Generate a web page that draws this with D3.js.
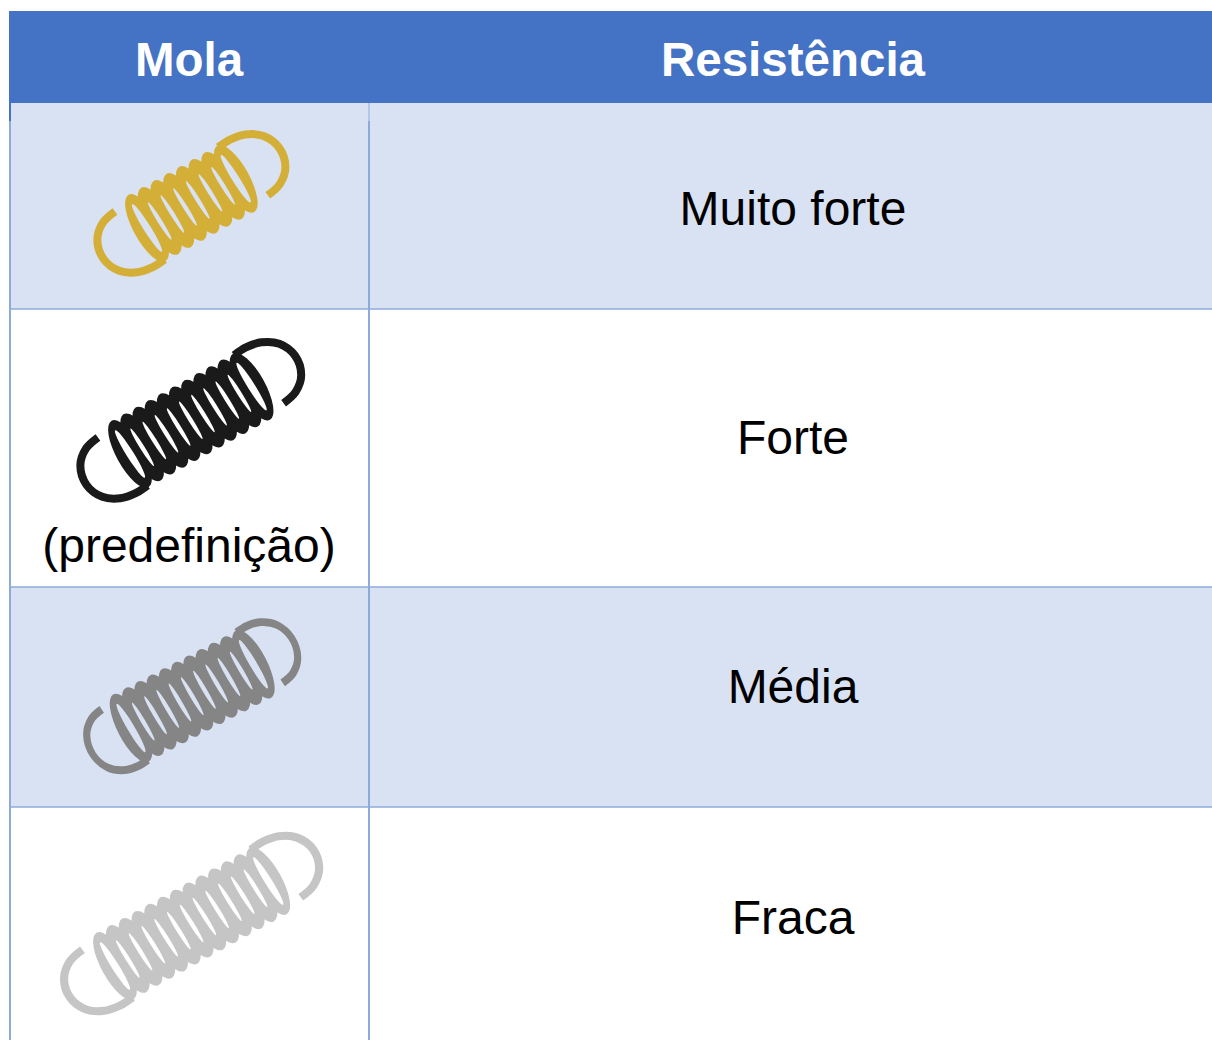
<!DOCTYPE html>
<html>
<head>
<meta charset="utf-8">
<script src="https://cdn.jsdelivr.net/npm/d3@7"></script>
<style>
    html, body { margin: 0; background: #fff; overflow: hidden; }
    text { font-family: "Liberation Sans", Arial, sans-serif; }
</style>
</head>
<body>
<div id="chart"></div>
<script>
// Table data
const headers = ["Mola", "Resistência"];
const strengths = ["Muito forte", "Forte", "Média", "Fraca"];
const notes = ["", "(predefinição)", "", ""];
const coilCounts = [8, 11, 11, 13];
const springColors = ["#d4af37", "#1a1a1a", "#858585", "#c5c5c5"];

// Layout
const width = 1212, height = 1040;
const colX = [10, 369, 1212];
const headerTop = 11, rowY = [103, 309, 587, 807, 1040];
const textMid = [208, 437, 686, 917];
// first coil centre of each spring, distance between coils, tilt, hook size
const springStart = [[147, 228], [130, 454], [131, 728], [115, 966]];
const coilStep = [14.5, 13.9, 13.8, 14.6];
const springAngle = [-29, -29, -27.5, -29];
const hookScale = [1, 1, 0.87, 1.03];
const coilRx = 13.5, coilRy = 38;
const holeTilt = 3;
const hookStroke = 8;
const hook = [[-20, -30], [-36, -26], [-49, -14], [-53, 6], [-45, 24], [-30, 34], [-14, 37], [0, 36]];

const rowFill = ["#d9e2f3", "#ffffff", "#d9e2f3", "#ffffff"];
const lineColor = "#8eaadb";

const svg = d3.select("#chart").append("svg")
    .attr("width", width)
    .attr("height", height)
    .style("display", "block");

// Header
svg.append("rect")
    .attr("x", colX[0] - 1).attr("y", headerTop)
    .attr("width", width - colX[0] + 1).attr("height", rowY[0] - headerTop)
    .attr("fill", "#4472c4");

svg.selectAll("text.head")
    .data(headers)
    .enter()
    .append("text")
    .attr("class", "head")
    .attr("x", (d, i) => i == 0 ? 189 : 793)
    .attr("y", 76)
    .attr("text-anchor", "middle")
    .attr("font-size", "47.5px")
    .attr("font-weight", "bold")
    .attr("fill", "#fff")
    .text(d => d);

// Rows
svg.selectAll("rect.row")
    .data(strengths)
    .enter()
    .append("rect")
    .attr("class", "row")
    .attr("x", colX[0])
    .attr("y", (d, i) => rowY[i])
    .attr("width", width - colX[0])
    .attr("height", (d, i) => rowY[i + 1] - rowY[i])
    .attr("fill", (d, i) => rowFill[i]);

// Grid lines
svg.selectAll("line.hline")
    .data(rowY.slice(1, 4))
    .enter()
    .append("line")
    .attr("class", "hline")
    .attr("x1", colX[0]).attr("x2", width)
    .attr("y1", d => d).attr("y2", d => d)
    .attr("stroke-width", 1.6)
    .attr("stroke", lineColor);

svg.selectAll("line.vline")
    .data(colX.slice(0, 2))
    .enter()
    .append("line")
    .attr("class", "vline")
    .attr("x1", d => d).attr("x2", d => d)
    .attr("y1", rowY[0] + 18).attr("y2", height)
    .attr("stroke-width", 2)
    .attr("stroke", lineColor);

// thin piece of the column line just under the header
svg.append("line")
    .attr("x1", colX[1]).attr("x2", colX[1])
    .attr("y1", rowY[0]).attr("y2", rowY[0] + 18)
    .attr("stroke", lineColor);

svg.append("line")
    .attr("x1", colX[0]).attr("x2", colX[0])
    .attr("y1", rowY[0]).attr("y2", rowY[0] + 18)
    .attr("stroke-width", 2)
    .attr("stroke", "#4472c4");

// Strength labels
svg.selectAll("text.strength")
    .data(strengths)
    .enter()
    .append("text")
    .attr("class", "strength")
    .attr("x", 793)
    .attr("y", (d, i) => textMid[i] + 17)
    .attr("text-anchor", "middle")
    .attr("font-size", "48px")
    .attr("fill", "#000")
    .text(d => d);

svg.selectAll("text.note")
    .data(notes.filter(d => d))
    .enter()
    .append("text")
    .attr("class", "note")
    .attr("x", 189)
    .attr("y", 562)
    .attr("text-anchor", "middle")
    .attr("font-size", "48px")
    .attr("fill", "#000")
    .text(d => d);

// Springs: solid coils with the gaps cut out in the row colour
const hookLine = d3.line().curve(d3.curveCatmullRom);

const springs = svg.selectAll("g.spring")
    .data(coilCounts)
    .enter()
    .append("g")
    .attr("class", "spring")
    .attr("transform", (d, i) => `translate(${springStart[i]}) rotate(${springAngle[i]})`);

springs.each(function(n, i) {
    const g = d3.select(this);
    const color = springColors[i];
    const step = coilStep[i];
    const isEnd = k => k == 0 || k == n - 1;

    g.selectAll("ellipse.coil")
        .data(d3.range(n))
        .enter()
        .append("ellipse")
        .attr("class", "coil")
        .attr("cx", k => k * step)
        .attr("rx", coilRx)
        .attr("ry", coilRy)
        .attr("fill", color);

    g.selectAll("ellipse.gap")
        .data(d3.range(n))
        .enter()
        .append("ellipse")
        .attr("class", "gap")
        .attr("transform", k => `translate(${k * step},0) rotate(${-holeTilt})`)
        .attr("rx", k => isEnd(k) ? 3.6 : 2.2)
        .attr("ry", k => isEnd(k) ? 28 : 22)
        .attr("fill", rowFill[i]);

    g.append("path")
        .attr("fill", "none")
        .attr("stroke", color)
        .attr("stroke-width", hookStroke)
        .attr("transform", `scale(${hookScale[i]},1)`)
        .attr("d", hookLine(hook));
    g.append("path")
        .attr("fill", "none")
        .attr("stroke", color)
        .attr("stroke-width", hookStroke)
        .attr("transform", `translate(${(n - 1) * step},0) rotate(180) scale(${hookScale[i]},1)`)
        .attr("d", hookLine(hook));
});
</script>
</body>
</html>
